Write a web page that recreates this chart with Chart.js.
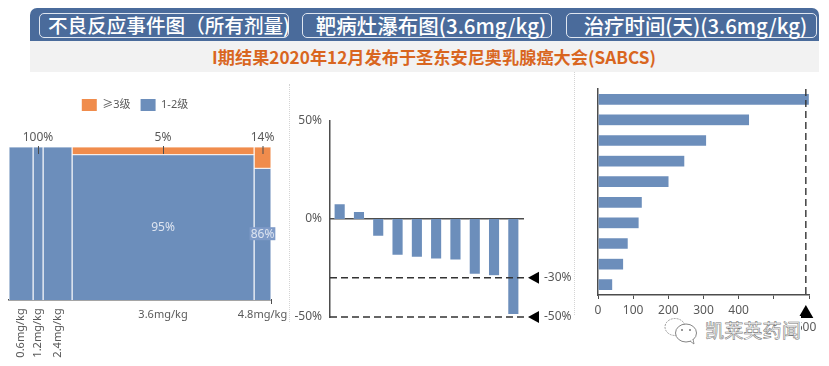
<!DOCTYPE html>
<html>
<head>
<meta charset="utf-8">
<script src="https://cdn.jsdelivr.net/npm/chart.js@4/dist/chart.umd.min.js"></script>
<style>
  html, body { margin: 0; padding: 0; background: #fff; overflow: hidden; }
  body { width: 829px; height: 366px; position: relative; font-family: "Noto Sans CJK SC", sans-serif; filter: blur(0.35px); }
  canvas { position: absolute; }
  .band { position: absolute; left: 30px; width: 789px; }
  .tab { position: absolute; top: 13px; height: 23px; line-height: 22px; border: 1px solid #dfe6f0; border-radius: 5px;
         color: #fff; font-weight: 500; text-align: center; white-space: nowrap; box-sizing: border-box; height: 25px; padding-left: 8px; }
  .sep { position: absolute; border-left: 1px dotted #d4d4d4; }
  #mark { position: absolute; left: 705px; top: 316px; font-size: 19.2px; line-height: 28px; color: #fff; background: #fff;
          -webkit-text-stroke: 0.55px #777; white-space: nowrap; }
  #wechat { position: absolute; left: 664px; top: 317px; }
</style>
</head>
<body>
<div class="band" style="top:8px;height:33px;background:#4a6b9b;border-radius:7px 7px 0 0"></div>
<div class="band" style="top:41px;height:31px;background:#f2f2f2;color:#d9661f;font-weight:700;font-size:17.2px;line-height:31px;text-align:center;text-indent:19px">I期结果2020年12月发布于圣东安尼奥乳腺癌大会(SABCS)</div>
<div class="tab" style="left:39px;width:250px;font-size:19.6px">不良反应事件图（所有剂量)</div>
<div class="tab" style="left:302px;width:250px;font-size:20.5px">靶病灶瀑布图(3.6mg/kg)</div>
<div class="tab" style="left:566px;width:251px;font-size:20.4px">治疗时间(天)(3.6mg/kg)</div>
<div class="sep" style="left:289px;top:84px;height:238px"></div>
<div class="sep" style="left:574px;top:72px;height:243px"></div>

<canvas id="adverse" style="left:-20px;top:90px" width="310" height="276"></canvas>
<canvas id="waterfall" style="left:295px;top:100px" width="279" height="240"></canvas>
<canvas id="duration" style="left:575px;top:75px" width="254" height="265"></canvas>

<div id="mark">凯莱英药闻</div>
<svg id="wechat" width="36" height="28" viewBox="0 0 36 28">
  <ellipse cx="11" cy="10" rx="10" ry="8.5" fill="#fff" stroke="#888" stroke-width="0.8" stroke-dasharray="2 1"/>
  <ellipse cx="22" cy="16" rx="10.5" ry="9" fill="#fff" stroke="#777" stroke-width="0.9"/>
  <path d="M26 24 L30 27 L29 22" fill="#fff" stroke="#777" stroke-width="0.8"/>
  <circle cx="18" cy="13" r="1" fill="#777"/><circle cx="26" cy="13" r="1" fill="#777"/>
</svg>

<script>
const cohortLabels = ['0.6mg/kg', '1.2mg/kg', '2.4mg/kg', '3.6mg/kg', '4.8mg/kg'];
const cohortWidths = [24, 10, 29, 182, 17];
const grade3Share = [0, 0, 0, 5, 14];
const grade12Share = [100, 100, 100, 95, 86];
const topLabels = [null, '100%', null, '5%', '14%'];
const innerLabels = [null, null, null, '95%', '86%'];
const legendLabels = ['≥3级', '1-2级'];

const tumorChange = [7.6, 3.7, -8.6, -18.3, -19.3, -20.2, -20.7, -28, -28.8, -48.6];
const thresholds = [-30, -50];
const waterfallTicks = [50, 0, -50];

const patients = ['1', '2', '3', '4', '5', '6', '7', '8', '9', '10'];
const treatmentDays = [600, 430, 308, 246, 201, 125, 116, 85, 72, 41];
const dayMarker = 591;
const dayTickLabels = [0, 100, 200, 300, 400];
const dayLastLabel = 600;

const blue = '#6c8ebb';
const orange = '#f08c4c';
const axisColor = '#4d4d4d';
const textColor = '#595959';
const labelFont = '11px "Noto Sans", sans-serif';
const bigLabelFont = '12px "Noto Sans", sans-serif';

Chart.defaults.animation = false;
Chart.defaults.responsive = false;
Chart.defaults.color = textColor;
Chart.defaults.font.family = '"Noto Sans", "Noto Sans CJK SC", sans-serif';
Chart.defaults.font.size = 11.5;
Chart.defaults.plugins.legend.display = false;
Chart.defaults.plugins.tooltip.enabled = false;

// Left: mekko style chart, column widths are the cohort sizes
const starts = cohortWidths.map((w, i) => cohortWidths.slice(0, i).reduce((a, b) => a + b, 0));
const adverseTotal = cohortWidths.reduce((a, b) => a + b, 0);

const blueSets = cohortWidths.map((w, i) => ({
  data: [
    { x: starts[i], y: 0 }, { x: starts[i], y: grade12Share[i] },
    { x: starts[i] + w, y: grade12Share[i] }, { x: starts[i] + w, y: 0 }
  ],
  backgroundColor: blue,
  fill: 'origin'
}));
const orangeSets = cohortWidths.map((w, i) => ({
  data: [
    { x: starts[i], y: grade12Share[i] }, { x: starts[i], y: 100 },
    { x: starts[i] + w, y: 100 }, { x: starts[i] + w, y: grade12Share[i] }
  ],
  backgroundColor: orange,
  fill: { value: grade12Share[i] }
})).filter((d, i) => grade3Share[i] > 0);

const adverseLabels = {
  id: 'adverseLabels',
  beforeInit(chart) {
    const fit = chart.legend.fit;
    chart.legend.fit = function () {
      fit.call(this);
      this.height += 25;
    };
  },
  afterLayout(chart) {
    // legend sits a bit left of the plot centre
    chart.legend.left -= 5;
    chart.legend.right -= 5;
    chart.legend.top -= 1;
    chart.legend.bottom -= 1;
    chart.legend.adjustHitBoxes();
  },
  afterDraw(chart) {
    const { ctx, scales: { x, y } } = chart;
    ctx.save();
    ctx.font = labelFont;
    ctx.textAlign = 'center';
    ctx.textBaseline = 'middle';
    cohortLabels.forEach((label, i) => {
      const cx = x.getPixelForValue(starts[i] + cohortWidths[i] / 2);
      ctx.font = labelFont;
      if (cohortWidths[i] > 30 || i === 4) {
        ctx.fillStyle = textColor;
        ctx.fillText(label, cx, y.bottom + 15);
      } else {
        ctx.save();
        ctx.translate(cx, y.bottom + 33);
        ctx.rotate(-Math.PI / 2);
        ctx.fillStyle = textColor;
        ctx.fillText(label, 0, 0);
        ctx.restore();
      }
      ctx.font = bigLabelFont;
      if (topLabels[i]) {
        ctx.fillStyle = textColor;
        ctx.fillText(topLabels[i], cx, y.top - 9);
        ctx.strokeStyle = axisColor;
        ctx.beginPath();
        ctx.moveTo(cx + 0.5, y.top - 1);
        ctx.lineTo(cx + 0.5, y.top + 7);
        ctx.stroke();
      }
      if (innerLabels[i]) {
        const ly = y.getPixelForValue(grade12Share[i] / 2);
        const tw = ctx.measureText(innerLabels[i]).width;
        if (i === 4) {
          ctx.fillStyle = '#7f9bc8';
          ctx.fillRect(cx - tw / 2 - 1, ly - 7, tw + 2, 13);
        }
        ctx.fillStyle = '#dde4f0';
        ctx.fillText(innerLabels[i], cx, ly);
      }
    });
    ctx.strokeStyle = axisColor;
    ctx.lineWidth = 1;
    ctx.beginPath();
    ctx.moveTo(x.right + 0.5, y.bottom);
    ctx.lineTo(x.right + 0.5, y.bottom + 4);
    ctx.stroke();
    ctx.restore();
  }
};

new Chart(document.getElementById('adverse'), {
  type: 'scatter',
  data: {
    datasets: blueSets.concat(orangeSets).map(d => ({
      ...d,
      showLine: true,
      pointRadius: 0,
      borderColor: 'rgba(255, 255, 255, 0.8)',
      borderWidth: 1.2
    }))
  },
  options: {
    layout: { padding: { left: 29, right: 19, top: 0, bottom: 66 } },
    plugins: {
      legend: {
        display: true,
        position: 'top',
        labels: {
          boxWidth: 15,
          boxHeight: 12,
          padding: 10,
          font: { size: 11 },
          generateLabels: () => legendLabels.map((text, i) => ({
            text,
            fillStyle: i === 0 ? orange : blue,
            strokeStyle: 'rgba(255, 255, 255, 0)',
            lineWidth: 0,
            fontColor: textColor
          }))
        }
      }
    },
    scales: {
      x: {
        type: 'linear',
        min: 0,
        max: adverseTotal,
        afterFit(scale) { scale.height = 0; },
        grid: { display: false },
        ticks: { display: false },
        border: { color: axisColor, width: 1.5 }
      },
      y: { min: 0, max: 100, display: false }
    }
  },
  plugins: [adverseLabels]
});

// Middle: waterfall
const waterfallMarks = {
  id: 'waterfallMarks',
  afterDatasetsDraw(chart) {
    const { ctx, scales: { x, y } } = chart;
    ctx.save();
    thresholds.forEach(value => {
      const py = y.getPixelForValue(value);
      ctx.strokeStyle = '#333';
      ctx.lineWidth = 1.4;
      ctx.setLineDash([7, 4]);
      ctx.beginPath();
      ctx.moveTo(x.left, py);
      ctx.lineTo(x.right + 1, py);
      ctx.stroke();
      ctx.setLineDash([]);
      ctx.fillStyle = '#000';
      ctx.beginPath();
      ctx.moveTo(x.right + 5, py);
      ctx.lineTo(x.right + 16, py - 6);
      ctx.lineTo(x.right + 16, py + 6);
      ctx.closePath();
      ctx.fill();
      ctx.fillStyle = textColor;
      ctx.font = bigLabelFont;
      ctx.textBaseline = 'middle';
      ctx.fillText(value + '%', x.right + 21, py);
    });
    ctx.restore();
  }
};

new Chart(document.getElementById('waterfall'), {
  type: 'bar',
  data: {
    labels: patients,
    datasets: [{
      data: tumorChange,
      backgroundColor: blue,
      borderColor: 'rgba(255, 255, 255, 0.35)',
      borderWidth: 0.5,
      barThickness: 10.5
    }]
  },
  options: {
    layout: { padding: { left: 0, right: 51, top: 21, bottom: 23 } },
    scales: {
      x: {
        position: { y: 0 },
        grid: { display: false },
        ticks: { display: false },
        border: { color: axisColor, width: 1.5 }
      },
      y: {
        min: -50,
        max: 50,
        afterFit(scale) { scale.width = 35; },
        afterBuildTicks(scale) { scale.ticks = waterfallTicks.map(value => ({ value })); },
        grid: { display: false, drawTicks: false },
        ticks: { padding: 8, callback: v => v + '%', font: { size: 12 } },
        border: { color: axisColor, width: 1.5 }
      }
    }
  },
  plugins: [waterfallMarks]
});

// Right: treatment duration
const durationMarks = {
  id: 'durationMarks',
  afterDatasetsDraw(chart) {
    const { ctx, scales: { x, y } } = chart;
    const px = x.getPixelForValue(dayMarker);
    ctx.save();
    ctx.strokeStyle = '#333';
    ctx.lineWidth = 1.4;
    ctx.setLineDash([7, 4]);
    ctx.beginPath();
    ctx.moveTo(px, y.top);
    ctx.lineTo(px, y.bottom + 1);
    ctx.stroke();
    ctx.setLineDash([]);
    ctx.fillStyle = '#000';
    ctx.beginPath();
    ctx.moveTo(px, y.bottom + 10);
    ctx.lineTo(px - 7.5, y.bottom + 23);
    ctx.lineTo(px + 7.5, y.bottom + 23);
    ctx.closePath();
    ctx.fill();
    ctx.fillStyle = textColor;
    ctx.font = bigLabelFont;
    ctx.textAlign = 'center';
    ctx.textBaseline = 'middle';
    ctx.fillText(String(dayLastLabel), x.getPixelForValue(dayLastLabel) - 3, y.bottom + 33);
    ctx.restore();
  }
};

new Chart(document.getElementById('duration'), {
  type: 'bar',
  data: {
    labels: patients,
    datasets: [{
      data: treatmentDays,
      backgroundColor: blue,
      borderColor: 'rgba(255, 255, 255, 0.35)',
      borderWidth: 0.5,
      barThickness: 11
    }]
  },
  options: {
    indexAxis: 'y',
    layout: { padding: { left: 23, right: 20, top: 14, bottom: 0 } },
    scales: {
      x: {
        min: 0,
        max: dayLastLabel,
        afterFit(scale) { scale.height = 45; },
        grid: { drawOnChartArea: false, tickLength: 4, color: axisColor },
        ticks: {
          stepSize: 100,
          maxRotation: 0,
          padding: 4,
          autoSkip: false,
          font: { size: 12 },
          callback: v => dayTickLabels.includes(v) ? String(v) : ''
        },
        border: { color: axisColor, width: 1.5 }
      },
      y: {
        afterFit(scale) { scale.width = 0; },
        grid: { display: false },
        ticks: { display: false },
        border: { color: axisColor, width: 1.5 }
      }
    }
  },
  plugins: [durationMarks]
});
</script>
</body>
</html>
